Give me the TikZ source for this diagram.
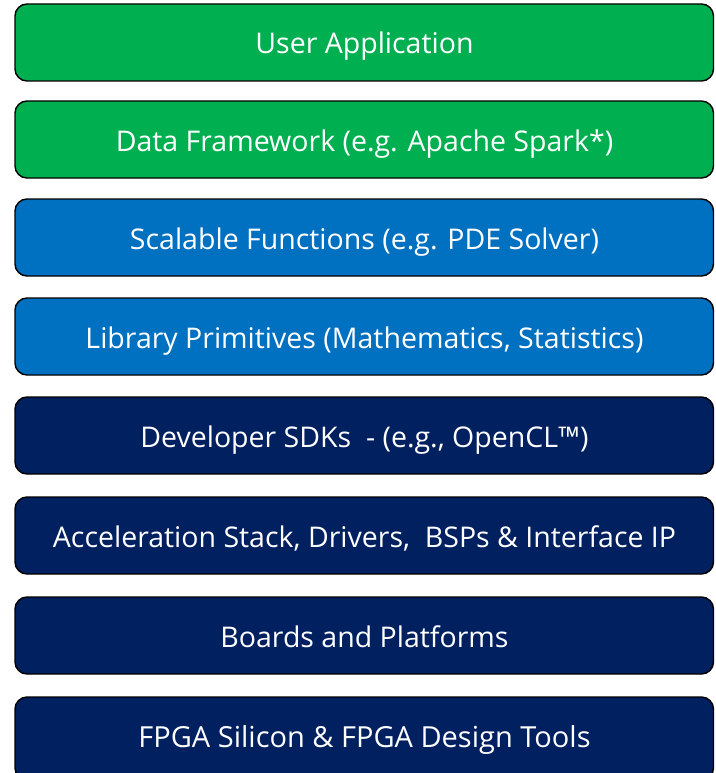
\documentclass[tikz,border=0pt]{standalone}
\usepackage{fontspec}
\setmainfont{Open Sans}
\definecolor{layergreen}{HTML}{00B050}
\definecolor{layerblue}{HTML}{0070C0}
\definecolor{layernavy}{HTML}{002060}
\tikzset{
  layer/.style={draw=black, line width=1.4pt, rounded corners=12pt},
  layertext/.style={text=white, anchor=base, inner sep=0pt, font=\fontsize{28.5}{33}\selectfont},
}
\begin{document}
\begin{tikzpicture}[x=1pt,y=-1pt]
\useasboundingbox (0,0) rectangle (715,773);
% stack of layers, top to bottom
\foreach \top/\col/\name/\txt in {
  4/layergreen/app/{User Application},
  101/layergreen/data/{Data Framework (e.g. Apache Spark*)},
  199/layerblue/func/{Scalable Functions (e.g. PDE Solver)},
  298/layerblue/lib/{Library Primitives (Mathematics, Statistics)},
  397/layernavy/sdk/{Developer SDKs~ - (e.g., OpenCL™)},
  497/layernavy/accel/{Acceleration Stack, Drivers,~ BSPs \& Interface IP},
  597/layernavy/board/{Boards and Platforms}}
{
  \draw[layer, fill=\col] (15,\top) rectangle (713.5,\top+77);
  \node[layertext] (\name) at (364.5,\top+50) {\txt};
}
\draw[layer, fill=layernavy] (15,697) rectangle (713.5,780);
\node[layertext, font=\fontsize{29}{34}\selectfont] (fpga) at (364.5,747) {FPGA Silicon \& FPGA Design Tools};
\end{tikzpicture}
\end{document}
